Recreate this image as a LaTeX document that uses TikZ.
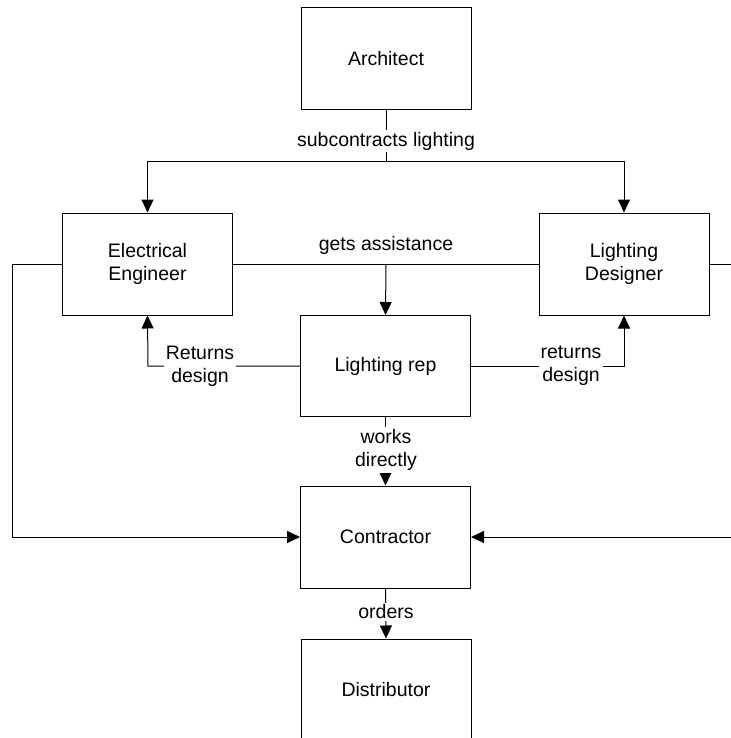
\documentclass[tikz,border=0pt]{standalone}
\usepackage{fontspec}
\setmainfont{Liberation Sans}
\usetikzlibrary{arrows.meta}
\begin{document}
\begin{tikzpicture}[x=1pt,y=-1pt,
  txt/.style={font=\fontsize{19.5}{23}\selectfont,align=center},
  box/.style={txt,draw,line width=1pt,minimum width=170pt,minimum height=102pt,inner sep=0pt},
  conn/.style={line width=1pt},
  arr/.style={conn,-{Triangle[length=13pt,width=12pt]}},
  lbl/.style={txt,fill=white,inner sep=2pt}]
\useasboundingbox (0,0) rectangle (730,738);
% boxes
\node[box] (arch) at (386,59) {Architect};
\node[box] (ee) at (147.5,264) {Electrical\\Engineer};
\node[box] (ld) at (624,264) {Lighting\\Designer};
\node[box,minimum height=101pt] (rep) at (385.5,366) {Lighting rep};
\node[box] (con) at (385.5,537) {Contractor};
\node[box] (dist) at (386,690) {Distributor};
% bend points
\coordinate (sj) at (386,162);
\coordinate (gj) at (386,264);
\coordinate (lw) at (12,264);
\coordinate (re) at (740,264);
\coordinate (rl) at (148,366);
\coordinate (rr) at (624,366);
% connectors
\draw[arr] (arch.south) -- (sj) -| (ee.north);
\draw[arr] (sj) -| (ld.north);
\draw[conn] (ee.east) -- (ld.west);
\draw[arr] (gj) -- (rep.north);
\draw[arr] (ee.west) -- (lw) |- (con.west);
\draw[arr] (ld.east) -- (re) |- (con.east);
\draw[arr] (rep.west) -- (rl) -- (ee.south);
\draw[arr] (rep.east) -- (rr) -- (ld.south);
\draw[arr] (rep.south) -- (con.north);
\draw[arr] (con.south) -- (dist.north);
% labels
\node[lbl] (l1) at (386,141) {subcontracts lighting};
\node[txt,inner sep=2pt] (l2) at (386,245) {gets assistance};
\node[lbl] (l3) at (200,366) {Returns\\design};
\node[lbl] (l4) at (571,366) {returns\\design};
\node[lbl] (l5) at (386,450) {works\\directly};
\node[lbl] (l6) at (386,612) {orders};
\end{tikzpicture}
\end{document}
